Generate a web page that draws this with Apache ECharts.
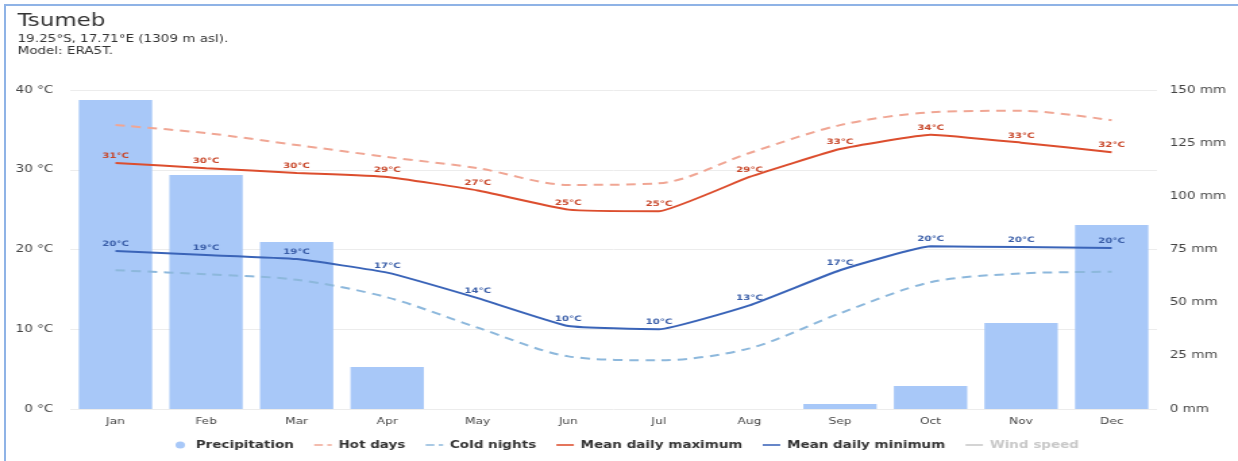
<!DOCTYPE html>
<html>
<head>
<meta charset="utf-8">
<script src="https://cdn.jsdelivr.net/npm/echarts@6/dist/echarts.min.js"></script>
<style>
html,body{margin:0;padding:0;background:#fff;overflow:hidden;}
#frame{position:absolute;left:4px;top:4px;width:1236px;height:461px;border-left:2px solid #8fb3e6;border-top:2px solid #8fb3e6;box-sizing:border-box;}
#chart{position:absolute;left:0;top:0;width:917px;height:461px;transform:scaleX(1.35);transform-origin:0 0;}
</style>
</head>
<body>
<div id="frame"></div>
<div id="chart"></div>
<script>
const months = ['Jan','Feb','Mar','Apr','May','Jun','Jul','Aug','Sep','Oct','Nov','Dec'];
const precipitation = [145.3, 110, 78.5, 19.7, 0, 0, 0, 0, 2.4, 10.8, 40.4, 86.5];
const hotDays = [35.6, 34.6, 33.1, 31.6, 30.2, 28.1, 28.3, 32.1, 35.6, 37.2, 37.4, 36.2];
const coldNights = [17.4, 16.9, 16.2, 14.0, 10.2, 6.6, 6.1, 7.6, 12.0, 15.9, 17.0, 17.2];
const meanMax = [30.85, 30.2, 29.6, 29.1, 27.4, 25.0, 24.8, 29.1, 32.6, 34.4, 33.4, 32.2];
const meanMin = [19.8, 19.3, 18.8, 17.1, 13.9, 10.4, 10.0, 13.0, 17.4, 20.4, 20.3, 20.2];
const windSpeed = [];
const tempTicks = [0, 10, 20, 30, 40];
const precTicks = [0, 25, 50, 75, 100, 125, 150];

const FONT = 'DejaVu Sans';
const chart = echarts.init(document.getElementById('chart'));
const lbl = (color) => ({
  show: true, position: 'top', distance: 3,
  fontFamily: FONT, fontSize: 7.5, fontWeight: 'bold', color: color,
  formatter: p => Math.round(p.value) + '°C'
});
const lineIcon = 'path://M0,0H20V2.4H0Z';
const dashIcon = 'path://M0,0H10V2.4H0Z M15,0H20V2.4H15Z';
chart.setOption({
  animation: false,
  textStyle: {fontFamily: FONT},
  title: {
    text: 'Tsumeb',
    subtext: '19.25°S, 17.71°E (1309 m asl).\nModel: ERA5T.',
    left: 8, top: 8, itemGap: 3,
    textStyle: {fontFamily: FONT, fontSize: 17, fontWeight: 'normal', color: '#333'},
    subtextStyle: {fontFamily: FONT, fontSize: 10, color: '#333', lineHeight: 12}
  },
  grid: {left: 52, right: 60, top: 90, bottom: 52},
  legend: {
    bottom: 6, left: 125, itemGap: 15, itemWidth: 13, itemHeight: 7,
    textStyle: {fontFamily: FONT, fontSize: 10, fontWeight: 'bold', color: '#333'},
    inactiveColor: '#c8c8c8',
    selected: {'Wind speed': false},
    data: [
      {name: 'Precipitation', icon: 'circle'},
      {name: 'Hot days', icon: dashIcon}, {name: 'Cold nights', icon: dashIcon},
      {name: 'Mean daily maximum', icon: lineIcon}, {name: 'Mean daily minimum', icon: lineIcon},
      {name: 'Wind speed', icon: lineIcon}
    ]
  },
  xAxis: {
    type: 'category', data: months,
    axisLine: {show: false}, axisTick: {show: false},
    axisLabel: {fontFamily: FONT, fontSize: 9, color: '#444', margin: 8}
  },
  yAxis: [
    {
      type: 'value', min: tempTicks[0], max: tempTicks[tempTicks.length - 1], interval: 10,
      axisLabel: {fontFamily: FONT, fontSize: 10, color: '#444', margin: 12.5, formatter: v => v + ' °C'},
      splitLine: {lineStyle: {color: '#ececec'}}
    },
    {
      type: 'value', min: precTicks[0], max: precTicks[precTicks.length - 1], interval: 25,
      position: 'right',
      axisLabel: {fontFamily: FONT, fontSize: 10, color: '#444', margin: 9.5, formatter: v => v + ' mm'},
      splitLine: {show: false}
    }
  ],
  series: [
    {name: 'Precipitation', type: 'bar', yAxisIndex: 1, data: precipitation, barWidth: '81%',
      itemStyle: {color: '#a8c8f8'}, z: 1},
    {name: 'Hot days', type: 'line', data: hotDays, smooth: 0.3, symbol: 'none',
      lineStyle: {color: '#f0a694', width: 2, type: [7, 5]}, itemStyle: {color: '#f0a694'}, z: 2},
    {name: 'Cold nights', type: 'line', data: coldNights, smooth: 0.3, symbol: 'none',
      lineStyle: {color: '#8db8dc', width: 2, type: [7, 5]}, itemStyle: {color: '#8db8dc'}, z: 2},
    {name: 'Mean daily maximum', type: 'line', data: meanMax, smooth: 0.12, symbol: 'circle', symbolSize: 0,
      showSymbol: true,
      lineStyle: {color: '#dc4e2e', width: 2}, itemStyle: {color: '#dc4e2e'}, label: lbl('#c8472a'), z: 3},
    {name: 'Mean daily minimum', type: 'line', data: meanMin, smooth: 0.12, symbol: 'circle', symbolSize: 0,
      showSymbol: true,
      lineStyle: {color: '#3a64b8', width: 2}, itemStyle: {color: '#3a64b8'}, label: lbl('#3a5ea8'), z: 3},
    {name: 'Wind speed', type: 'line', data: windSpeed, symbol: 'none',
      lineStyle: {color: '#aaaaaa', width: 2}, itemStyle: {color: '#aaaaaa'}}
  ]
});
</script>
</body>
</html>
